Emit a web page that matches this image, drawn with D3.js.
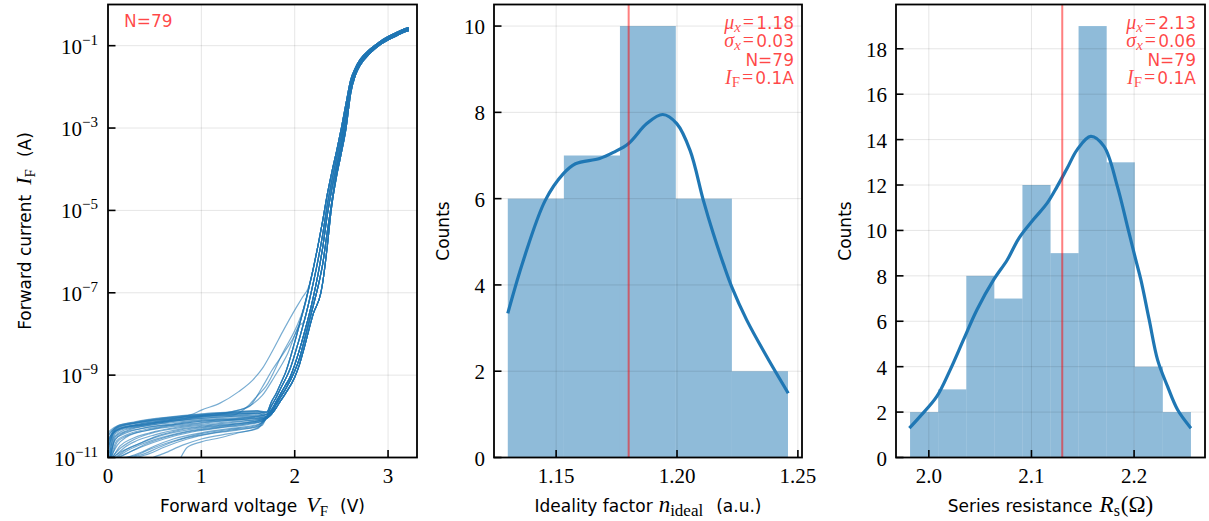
<!DOCTYPE html>
<html><head><meta charset="utf-8">
<script src="https://cdn.jsdelivr.net/npm/d3@7/dist/d3.min.js"></script>
<style>body{margin:0;background:#fff}</style>
</head><body>
<svg id="c" width="1209" height="521"></svg>
<script>
// ---------------- DATA ----------------
// Panel 1: I-V curves, points are [voltage V, log10(current A)]
const ivXTicks = [0, 1, 2, 3];
const ivYTickExps = [-11, -9, -7, -5, -3, -1];
const ivCount = 79;

// high-voltage branches (left edge B ... right edge C of the dense band)
const upperB = [[1.7,-9.9],[1.75,-9.65],[1.8,-9.45],[1.85,-9.2],[1.9,-8.95],[2.0,-8.2],[2.1,-7.35],[2.15,-6.9],[2.2,-6.4],[2.25,-5.85],[2.3,-5.25],[2.35,-4.6],[2.4,-4.05],[2.45,-3.55],[2.5,-3.0],[2.55,-2.4],[2.6,-1.83],[2.65,-1.54],[2.7,-1.34],[2.8,-1.10],[2.9,-0.92],[3.0,-0.78],[3.1,-0.67],[3.2,-0.57],[3.22,-0.56]];
const upperD = [[1.7,-9.95],[1.75,-9.75],[1.8,-9.55],[1.85,-9.32],[1.9,-9.1],[1.95,-8.85],[2.0,-8.5],[2.1,-7.7],[2.15,-7.25],[2.2,-6.75],[2.25,-6.2],[2.3,-5.58],[2.35,-4.85],[2.4,-4.25],[2.45,-3.72],[2.5,-3.18],[2.55,-2.52],[2.6,-1.9],[2.65,-1.58],[2.7,-1.37],[2.8,-1.13],[2.9,-0.94],[3.0,-0.80],[3.1,-0.69],[3.2,-0.59],[3.22,-0.58]];
const upperA = [[1.7,-10.0],[1.75,-9.85],[1.8,-9.65],[1.85,-9.45],[1.9,-9.25],[1.95,-9.05],[2.0,-8.75],[2.1,-8.0],[2.2,-7.1],[2.25,-6.55],[2.3,-5.9],[2.35,-5.1],[2.4,-4.45],[2.45,-3.9],[2.5,-3.35],[2.55,-2.65],[2.6,-2.0],[2.65,-1.63],[2.7,-1.41],[2.8,-1.15],[2.9,-0.96],[3.0,-0.82],[3.1,-0.71],[3.2,-0.61],[3.22,-0.60]];
const upperE = [[1.7,-10.02],[1.75,-9.9],[1.8,-9.72],[1.85,-9.53],[1.9,-9.35],[2.0,-8.9],[2.05,-8.6],[2.1,-8.18],[2.2,-7.3],[2.25,-6.85],[2.3,-6.3],[2.35,-5.5],[2.4,-4.75],[2.45,-4.05],[2.5,-3.48],[2.55,-2.85],[2.6,-2.08],[2.65,-1.68],[2.7,-1.45],[2.8,-1.17],[2.9,-0.98],[3.0,-0.84],[3.1,-0.73],[3.2,-0.63],[3.22,-0.62]];
const upperC = [[1.7,-10.05],[1.75,-9.95],[1.8,-9.8],[1.85,-9.62],[1.9,-9.45],[2.0,-9.05],[2.05,-8.75],[2.1,-8.35],[2.2,-7.5],[2.28,-7.0],[2.3,-6.75],[2.35,-5.85],[2.39,-5.0],[2.45,-4.15],[2.5,-3.6],[2.55,-3.0],[2.6,-2.15],[2.65,-1.72],[2.7,-1.48],[2.8,-1.20],[2.9,-1.0],[3.0,-0.86],[3.1,-0.75],[3.2,-0.65],[3.22,-0.64]];

// low-voltage parts of the individual curves; 'up' names the branch they continue into
const ivLowSegments = [
  {up:'B', pts:[[0,-10.55],[0.05,-10.4],[0.1,-10.28],[0.3,-10.17],[0.6,-10.08],[1.0,-9.97],[1.3,-9.93],[1.6,-9.9],[1.65,-9.9]]},
  {up:'D', pts:[[0,-10.8],[0.05,-10.45],[0.1,-10.32],[0.3,-10.2],[0.6,-10.1],[1.0,-10.0],[1.3,-9.96],[1.6,-9.93],[1.65,-9.95]]},
  {up:'A', pts:[[0.01,-11],[0.06,-10.5],[0.12,-10.35],[0.3,-10.25],[0.6,-10.14],[1.0,-10.05],[1.3,-10.0],[1.6,-9.97]]},
  {up:'E', pts:[[0.02,-11],[0.07,-10.6],[0.15,-10.42],[0.35,-10.3],[0.7,-10.18],[1.0,-10.1],[1.4,-10.05],[1.65,-10.0]]},
  {up:'C', pts:[[0.03,-11],[0.1,-10.7],[0.2,-10.5],[0.4,-10.35],[0.7,-10.22],[1.0,-10.15],[1.4,-10.08],[1.65,-10.04]]},
  {up:'E', pts:[[0.04,-11],[0.12,-10.8],[0.25,-10.6],[0.45,-10.42],[0.8,-10.27],[1.1,-10.2],[1.45,-10.12],[1.65,-10.06]]},
  {up:'A', pts:[[0.05,-11],[0.15,-10.85],[0.3,-10.7],[0.5,-10.5],[0.8,-10.32],[1.1,-10.24],[1.5,-10.15],[1.65,-10.08]]},
  {up:'C', pts:[[0.1,-11],[0.2,-10.9],[0.35,-10.75],[0.6,-10.55],[0.9,-10.38],[1.2,-10.28],[1.5,-10.2],[1.65,-10.12]]},
  {up:'C', pts:[[0.2,-11],[0.35,-10.88],[0.5,-10.72],[0.7,-10.55],[1.0,-10.4],[1.3,-10.3],[1.6,-10.2],[1.65,-10.15]]},
  {up:'E', pts:[[0.3,-11],[0.45,-10.9],[0.6,-10.75],[0.85,-10.55],[1.1,-10.42],[1.4,-10.33],[1.65,-10.22]]},
  {up:'C', pts:[[0.48,-11],[0.6,-10.9],[0.8,-10.7],[1.0,-10.55],[1.3,-10.42],[1.6,-10.3]]},
  {up:'C', pts:[[0.78,-11],[0.85,-10.75],[1.0,-10.62],[1.2,-10.52],[1.4,-10.4],[1.6,-10.28]]},
  {up:'B', pts:[[0,-10.45],[0.04,-10.35],[0.1,-10.25],[0.3,-10.15],[0.6,-10.05],[1.0,-9.96],[1.3,-9.92],[1.6,-9.88]]},
  {up:'D', pts:[[0.01,-10.9],[0.06,-10.4],[0.12,-10.3],[0.35,-10.22],[0.7,-10.12],[1.0,-10.05],[1.4,-10.0],[1.65,-9.98]]},
  {up:'A', pts:[[0.02,-11],[0.08,-10.55],[0.2,-10.4],[0.4,-10.28],[0.7,-10.2],[1.0,-10.12],[1.4,-10.07],[1.65,-10.03]]},
  {up:'E', pts:[[0.06,-11],[0.18,-10.75],[0.3,-10.6],[0.5,-10.45],[0.8,-10.3],[1.1,-10.22],[1.5,-10.14],[1.65,-10.08]]},
  {up:'A', pts:[[0.12,-11],[0.25,-10.85],[0.4,-10.68],[0.6,-10.52],[0.9,-10.36],[1.2,-10.27],[1.5,-10.18],[1.65,-10.12]]},
  {up:'C', pts:[[0.15,-11],[0.3,-10.95],[0.45,-10.8],[0.7,-10.6],[1.0,-10.42],[1.3,-10.32],[1.6,-10.22]]},
  {up:'B', pts:[[0,-10.6],[0.05,-10.4],[0.1,-10.3],[0.3,-10.2],[0.6,-10.1],[0.9,-9.95],[1.0,-9.85],[1.2,-9.68],[1.4,-9.4],[1.55,-9.12],[1.65,-8.85],[1.76,-8.42],[1.87,-7.95],[1.98,-7.5],[2.08,-7.12],[2.15,-6.85]]},
  {up:'B', pts:[[0.02,-10.9],[0.06,-10.45],[0.12,-10.32],[0.3,-10.22],[0.7,-10.1],[1.0,-10.0],[1.2,-9.98],[1.34,-9.97],[1.5,-9.75],[1.6,-9.5],[1.69,-9.28],[1.87,-8.47],[2.05,-7.66],[2.12,-7.2]]},
  {up:'B', pts:[[0.03,-11],[0.08,-10.5],[0.2,-10.35],[0.5,-10.2],[0.9,-10.05],[1.2,-9.95],[1.4,-9.85],[1.51,-9.77],[1.65,-9.3],[1.76,-8.87],[1.9,-8.4],[2.01,-7.98],[2.1,-7.4]]},
  {up:'D', pts:[[0.01,-10.7],[0.05,-10.42],[0.15,-10.3],[0.4,-10.2],[0.8,-10.05],[1.1,-9.95],[1.4,-9.85],[1.55,-9.7],[1.65,-9.5],[1.78,-9.05],[1.92,-8.5],[2.05,-7.8]]},
  {up:'A', pts:[[0,-10.7],[0.05,-10.38],[0.1,-10.27],[0.3,-10.16],[0.6,-10.06],[1.0,-9.98],[1.3,-9.94],[1.6,-9.92]]},
  {up:'C', pts:[[0.03,-11],[0.09,-10.6],[0.2,-10.45],[0.4,-10.32],[0.7,-10.2],[1.0,-10.12],[1.4,-10.06],[1.6,-10.02]]},
  {up:'A', pts:[[0.08,-11],[0.2,-10.8],[0.35,-10.65],[0.55,-10.48],[0.85,-10.33],[1.2,-10.23],[1.5,-10.15],[1.65,-10.1]]},
  {up:'B', pts:[[0,-10.5],[0.04,-10.36],[0.1,-10.26],[0.3,-10.16],[0.6,-10.07],[1.0,-9.99],[1.3,-9.95],[1.6,-9.92]]},
  {up:'D', pts:[[0,-10.65],[0.05,-10.36],[0.1,-10.24],[0.3,-10.14],[0.6,-10.04],[1.0,-9.95],[1.3,-9.91],[1.6,-9.87]]},
  {up:'D', pts:[[0.02,-11],[0.07,-10.5],[0.15,-10.36],[0.35,-10.25],[0.7,-10.15],[1.0,-10.08],[1.4,-10.03],[1.65,-9.99]]},
  {up:'E', pts:[[0.04,-11],[0.1,-10.62],[0.2,-10.48],[0.45,-10.33],[0.8,-10.22],[1.1,-10.14],[1.45,-10.08],[1.65,-10.05]]},
  {up:'E', pts:[[0.09,-11],[0.22,-10.82],[0.38,-10.66],[0.6,-10.5],[0.9,-10.34],[1.2,-10.25],[1.5,-10.17],[1.65,-10.11]]},
  {up:'A', pts:[[0.25,-11],[0.4,-10.9],[0.55,-10.75],[0.75,-10.58],[1.0,-10.45],[1.3,-10.34],[1.6,-10.24]]},
  {up:'D', pts:[[0.01,-10.8],[0.05,-10.43],[0.12,-10.31],[0.35,-10.2],[0.7,-10.09],[1.0,-10.02],[1.4,-9.97],[1.65,-9.94]]},
  {up:'E', pts:[[0.05,-11],[0.13,-10.72],[0.25,-10.55],[0.45,-10.4],[0.75,-10.26],[1.05,-10.18],[1.45,-10.11],[1.65,-10.07]]},
  {up:'B', pts:[[0,-10.4],[0.03,-10.33],[0.1,-10.23],[0.3,-10.13],[0.6,-10.03],[1.0,-9.94],[1.3,-9.9],[1.6,-9.86]]}
];

// Panel 2: ideality factor histogram + KDE
const idealEdges  = [1.130, 1.1532, 1.1764, 1.1995, 1.2227, 1.2459];
const idealCounts = [6, 7, 10, 6, 2];
const idealKdeX = [1.130,1.1365,1.1455,1.153,1.158,1.168,1.174,1.180,1.1875,1.1941,1.1999,1.2054,1.2109,1.215,1.2191,1.2226,1.2288,1.2371,1.2460];
const idealKdeY = [3.34,4.58,5.96,6.58,6.81,6.93,7.08,7.28,7.74,7.95,7.74,7.12,5.96,5.19,4.50,3.96,3.19,2.34,1.49];
const idealXTicks = [1.15, 1.20, 1.25];
const idealYTicks = [0, 2, 4, 6, 8, 10];
const idealMean = 1.18, idealStd = 0.03;

// Panel 3: series resistance histogram + KDE
const resEdges  = [1.9817, 2.0091, 2.0365, 2.0638, 2.0912, 2.1186, 2.1459, 2.1733, 2.2007, 2.2280, 2.2554];
const resCounts = [2, 3, 8, 7, 12, 9, 19, 13, 4, 2];
const resKdeX = [1.981,1.9915,2.0078,2.0208,2.0338,2.0469,2.0632,2.0765,2.0877,2.1023,2.1153,2.1251,2.1349,2.1446,2.1577,2.1707,2.1837,2.1935,2.2016,2.2066,2.2147,2.2229,2.2326,2.2424,2.2554];
const resKdeY = [1.29,1.81,2.69,3.86,5.19,6.51,7.83,8.71,9.65,10.5,11.2,11.94,12.75,13.56,14.14,13.70,11.94,10.18,8.71,7.83,6.07,4.30,3.13,2.10,1.29];
const resXTicks = [2.0, 2.1, 2.2];
const resYTicks = [0, 2, 4, 6, 8, 10, 12, 14, 16, 18];
const resMean = 2.13, resStd = 0.06;

// ---------------- STYLE ----------------
const BLUE = '#1f77b4';
const SANS = 'DejaVu Sans';
const SERIF = 'Liberation Serif';
const RED_TXT = 'rgba(255,0,0,0.72)';
const TOP = 4.5, BOT = 457.5;
const TICK_FS = 21, LABEL_FS = 17, ANN_FS = 17;

const svg = d3.select('#c');

function rich(parent, x, y, segs, opts) {
  const t = parent.append('text').attr('x', x).attr('y', y)
    .attr('text-anchor', opts.anchor || 'start')
    .attr('fill', opts.fill || '#000');
  if (opts.rotate) t.attr('transform', `rotate(-90,${x},${y})`);
  let cur = 0;
  segs.forEach(s => {
    const sp = t.append('tspan').text(s.t)
      .attr('font-family', s.f === 'serif' ? SERIF : SANS)
      .attr('font-size', s.size || opts.size)
      .attr('font-style', s.i ? 'italic' : 'normal');
    const target = s.dy || 0;
    sp.attr('dy', target - cur);
    if (s.dx) sp.attr('dx', s.dx);
    cur = target;
  });
  return t;
}

function frame(g, x0, x1) {
  g.append('rect').attr('x', x0).attr('y', TOP).attr('width', x1 - x0).attr('height', BOT - TOP)
    .attr('fill', 'none').attr('stroke', '#000').attr('stroke-width', 1.8);
}
function gridX(g, xs, ticks) {
  g.selectAll(null).data(ticks).enter().append('line')
    .attr('x1', d => xs(d)).attr('x2', d => xs(d)).attr('y1', TOP).attr('y2', BOT)
    .attr('stroke', '#000').attr('stroke-opacity', 0.1).attr('stroke-width', 1);
}
function gridY(g, ys, ticks, x0, x1) {
  g.selectAll(null).data(ticks).enter().append('line')
    .attr('y1', d => ys(d)).attr('y2', d => ys(d)).attr('x1', x0).attr('x2', x1)
    .attr('stroke', '#000').attr('stroke-opacity', 0.1).attr('stroke-width', 1);
}
function ticksX(g, xs, ticks, fmt) {
  ticks.forEach(d => {
    g.append('line').attr('x1', xs(d)).attr('x2', xs(d)).attr('y1', BOT).attr('y2', BOT - 7.5)
      .attr('stroke', '#000').attr('stroke-width', 1.6);
    g.append('text').attr('x', xs(d)).attr('y', BOT + 25).attr('text-anchor', 'middle')
      .attr('font-family', SERIF).attr('font-size', TICK_FS).text(fmt(d));
  });
}
function ticksY(g, ys, ticks, x0, fmt) {
  ticks.forEach(d => {
    g.append('line').attr('y1', ys(d)).attr('y2', ys(d)).attr('x1', x0).attr('x2', x0 + 7.5)
      .attr('stroke', '#000').attr('stroke-width', 1.6);
    g.append('text').attr('x', x0 - 9).attr('y', ys(d) + 8).attr('text-anchor', 'end')
      .attr('font-family', SERIF).attr('font-size', TICK_FS).text(fmt(d));
  });
}

// ---------------- PANEL 1 ----------------
(function () {
  const x0 = 108, x1 = 417;
  const g = svg.append('g');
  const xs = d3.scaleLinear().domain([0, 3.31]).range([x0, x1]);
  const ys = d3.scaleLog().domain([1e-11, 1]).range([BOT, TOP]);
  gridX(g, xs, ivXTicks);
  gridY(g, ys, ivYTickExps.map(e => Math.pow(10, e)), x0, x1);

  svg.append('clipPath').attr('id', 'clipL').append('rect')
    .attr('x', x0).attr('y', TOP).attr('width', x1 - x0).attr('height', BOT - TOP);
  const uppers = {A: upperA, B: upperB, C: upperC, D: upperD, E: upperE};
  const curves = ivLowSegments.map(s => {
    const last = s.pts[s.pts.length - 1][0];
    return s.pts.concat(uppers[s.up].filter(p => p[0] > last));
  });
  const line = d3.line().x(d => xs(d[0])).y(d => ys(Math.pow(10, d[1]))).curve(d3.curveMonotoneX);
  g.append('g').attr('clip-path', 'url(#clipL)')
    .selectAll('path').data(curves).enter().append('path')
    .attr('d', line).attr('fill', 'none').attr('stroke', BLUE)
    .attr('stroke-width', 1.2).attr('stroke-opacity', 0.6);

  frame(g, x0, x1);
  ticksX(g, xs, ivXTicks, d => String(d));
  ivYTickExps.forEach(e => {
    const y = ys(Math.pow(10, e));
    g.append('line').attr('y1', y).attr('y2', y).attr('x1', x0).attr('x2', x0 + 7.5)
      .attr('stroke', '#000').attr('stroke-width', 1.6);
    rich(g, x0 - 10, y + 8, [
      {t: '10', f: 'serif', size: TICK_FS},
      {t: '\u2212' + Math.abs(e), f: 'serif', size: 15, dy: -9}
    ], {anchor: 'end'});
  });
  rich(g, 124, 27, [{t: 'N=' + ivCount}], {size: ANN_FS, fill: RED_TXT});

  rich(g, (x0 + x1) / 2, 512, [
    {t: 'Forward voltage'}, {t: 'V', f: 'serif', i: true, size: 22, dx: 9},
    {t: 'F', f: 'serif', size: 15, dy: 4}, {t: '(V)', dy: 0, dx: 12}
  ], {anchor: 'middle', size: LABEL_FS});
  rich(g, 31, (TOP + BOT) / 2, [
    {t: 'Forward current'}, {t: 'I', f: 'serif', i: true, size: 22, dx: 10},
    {t: 'F', f: 'serif', size: 15, dy: 4}, {t: '(A)', dy: 0, dx: 12}
  ], {anchor: 'middle', size: LABEL_FS, rotate: true});
})();

// ---------------- HISTOGRAM PANELS ----------------
function histPanel(cfg) {
  const {x0, x1, xdom, ymax, edges, counts, kx, ky, xt, yt, fmt, mean, std, annX, xlabel, ylabX} = cfg;
  const g = svg.append('g');
  const xs = d3.scaleLinear().domain(xdom).range([x0, x1]);
  const ys = d3.scaleLinear().domain([0, ymax]).range([BOT, TOP]);
  const bins = counts.map((c, i) => ({a: edges[i], b: edges[i + 1], c}));
  g.selectAll('rect.bar').data(bins).enter().append('rect')
    .attr('x', d => xs(d.a)).attr('width', d => xs(d.b) - xs(d.a))
    .attr('y', d => ys(d.c)).attr('height', d => ys(0) - ys(d.c))
    .attr('fill', BLUE).attr('fill-opacity', 0.5);
  gridX(g, xs, xt);
  gridY(g, ys, yt, x0, x1);
  const kde = kx.map((x, i) => [x, ky[i]]);
  g.append('path').datum(kde)
    .attr('d', d3.line().x(d => xs(d[0])).y(d => ys(d[1])).curve(d3.curveCatmullRom.alpha(0.5)))
    .attr('fill', 'none').attr('stroke', BLUE).attr('stroke-width', 3.2);
  g.append('line').attr('x1', xs(mean)).attr('x2', xs(mean)).attr('y1', TOP).attr('y2', BOT)
    .attr('stroke', 'red').attr('stroke-opacity', 0.5).attr('stroke-width', 2);
  frame(g, x0, x1);
  ticksX(g, xs, xt, fmt);
  ticksY(g, ys, yt, x0, d => String(d));

  const lines = [
    [{t: '\u03bc', f: 'serif', i: true, size: 20}, {t: 'x', f: 'serif', i: true, size: 15, dy: 3}, {t: '=', f: 'serif', size: 20, dy: 0, dx: 2}, {t: mean.toFixed(2), dx: 2}],
    [{t: '\u03c3', f: 'serif', i: true, size: 20}, {t: 'x', f: 'serif', i: true, size: 15, dy: 3}, {t: '=', f: 'serif', size: 20, dy: 0, dx: 2}, {t: std.toFixed(2), dx: 2}],
    [{t: 'N=' + ivCount}],
    [{t: 'I', f: 'serif', i: true, size: 20}, {t: 'F', f: 'serif', size: 15, dy: 3}, {t: '=', f: 'serif', size: 20, dy: 0, dx: 2}, {t: '0.1A', dx: 2}]
  ];
  lines.forEach((segs, i) => rich(g, annX, 29 + i * 18.4, segs, {anchor: 'end', size: ANN_FS, fill: RED_TXT}));

  rich(g, (x0 + x1) / 2, 512, xlabel, {anchor: 'middle', size: LABEL_FS});
  rich(g, ylabX, (TOP + BOT) / 2, [{t: 'Counts'}], {anchor: 'middle', size: LABEL_FS, rotate: true});
}

histPanel({
  x0: 494, x1: 802, xdom: [1.1243, 1.2517], ymax: 10.5,
  edges: idealEdges, counts: idealCounts, kx: idealKdeX, ky: idealKdeY,
  xt: idealXTicks, yt: idealYTicks, fmt: d => d.toFixed(2),
  mean: idealMean, std: idealStd, annX: 794, ylabX: 449,
  xlabel: [{t: 'Ideality factor'}, {t: 'n', f: 'serif', i: true, size: 23, dx: 6},
           {t: 'ideal', f: 'serif', size: 17, dy: 4}, {t: '(a.u.)', dy: 0, dx: 13}]
});
histPanel({
  x0: 896, x1: 1205, xdom: [1.968, 2.2691], ymax: 19.95,
  edges: resEdges, counts: resCounts, kx: resKdeX, ky: resKdeY,
  xt: resXTicks, yt: resYTicks, fmt: d => d.toFixed(1),
  mean: resMean, std: resStd, annX: 1196, ylabX: 851,
  xlabel: [{t: 'Series resistance'}, {t: 'R', f: 'serif', i: true, size: 23, dx: 7},
           {t: 's', f: 'serif', size: 16, dy: 4}, {t: '(\u03a9)', f: 'serif', size: 23, dy: 0, dx: 1}]
});
</script>
</body></html>
